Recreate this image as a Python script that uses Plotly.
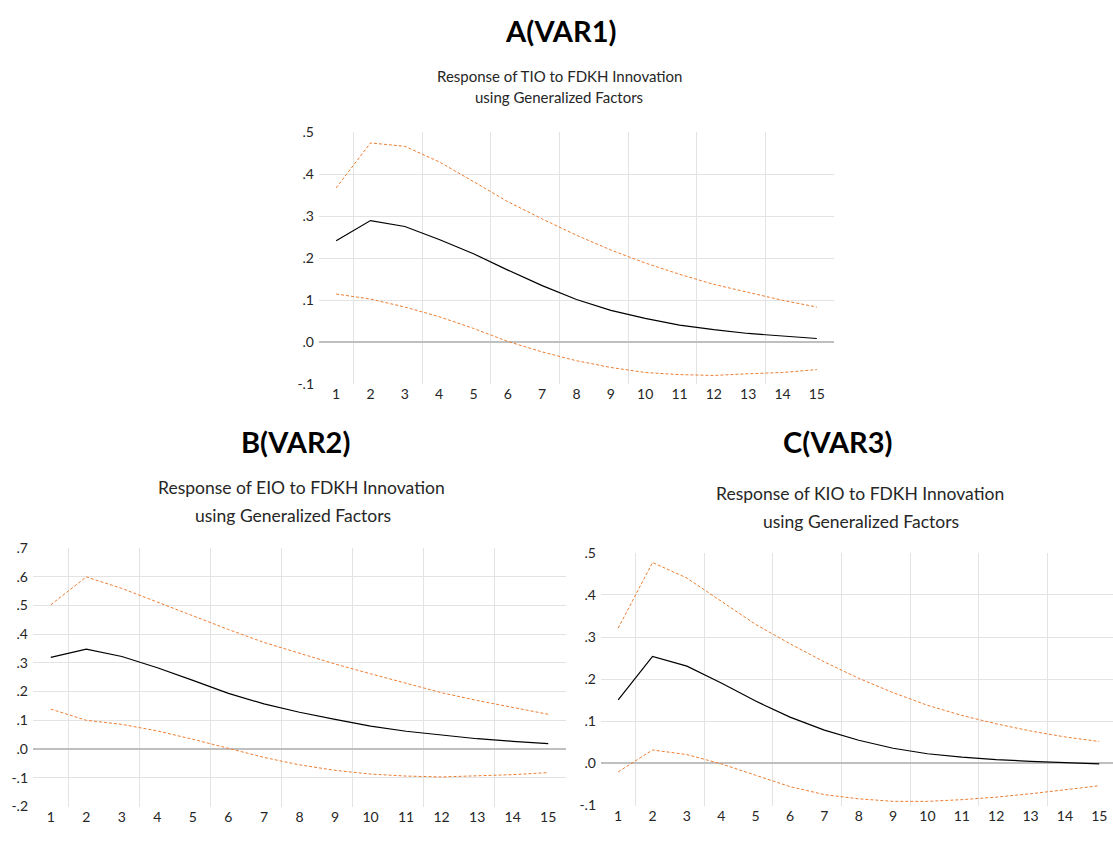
import plotly.graph_objects as go

periods = list(range(1, 16))

# Panel A: Response of TIO to FDKH Innovation
a_resp = [0.242, 0.290, 0.276, 0.245, 0.211, 0.172, 0.135, 0.102, 0.076, 0.057, 0.041, 0.030, 0.021, 0.015, 0.009]
a_upper = [0.368, 0.475, 0.467, 0.430, 0.383, 0.335, 0.294, 0.255, 0.220, 0.189, 0.162, 0.138, 0.119, 0.100, 0.084]
a_lower = [0.115, 0.103, 0.084, 0.061, 0.033, 0.002, -0.023, -0.044, -0.060, -0.072, -0.077, -0.079, -0.075, -0.072, -0.065]

# Panel B: Response of EIO to FDKH Innovation
b_resp = [0.319, 0.348, 0.322, 0.283, 0.239, 0.194, 0.157, 0.128, 0.103, 0.080, 0.062, 0.048, 0.036, 0.027, 0.019]
b_upper = [0.502, 0.599, 0.559, 0.511, 0.462, 0.416, 0.371, 0.333, 0.296, 0.262, 0.228, 0.196, 0.169, 0.146, 0.121]
b_lower = [0.139, 0.100, 0.086, 0.063, 0.034, 0.002, -0.029, -0.055, -0.074, -0.087, -0.094, -0.097, -0.094, -0.089, -0.082]

# Panel C: Response of KIO to FDKH Innovation
c_resp = [0.151, 0.254, 0.231, 0.191, 0.148, 0.110, 0.079, 0.055, 0.036, 0.023, 0.015, 0.009, 0.005, 0.002, -0.001]
c_upper = [0.321, 0.477, 0.440, 0.384, 0.330, 0.284, 0.241, 0.202, 0.168, 0.138, 0.114, 0.094, 0.077, 0.063, 0.052]
c_lower = [-0.020, 0.032, 0.021, -0.001, -0.028, -0.055, -0.074, -0.084, -0.090, -0.090, -0.086, -0.080, -0.072, -0.063, -0.053]

a_yticks = [0.5, 0.4, 0.3, 0.2, 0.1, 0.0, -0.1]
a_ylabels = [".5", ".4", ".3", ".2", ".1", ".0", "-.1"]
b_yticks = [0.7, 0.6, 0.5, 0.4, 0.3, 0.2, 0.1, 0.0, -0.1, -0.2]
b_ylabels = [".7", ".6", ".5", ".4", ".3", ".2", ".1", ".0", "-.1", "-.2"]
c_yticks = [0.5, 0.4, 0.3, 0.2, 0.1, 0.0, -0.1]
c_ylabels = [".5", ".4", ".3", ".2", ".1", ".0", "-.1"]

titles = ["A(VAR1)", "B(VAR2)", "C(VAR3)"]
subtitles_1 = ["Response of TIO to FDKH Innovation",
               "Response of EIO to FDKH Innovation",
               "Response of KIO to FDKH Innovation"]
subtitle_2 = "using Generalized Factors"

W, H = 1113, 841
FONT = "Lato"
ORANGE = "#ED7D31"
GRID = "#E3E3E3"
TXT = "#262626"

fig = go.Figure()

panels = [
    ("x", "y", a_resp, a_upper, a_lower),
    ("x2", "y2", b_resp, b_upper, b_lower),
    ("x3", "y3", c_resp, c_upper, c_lower),
]
for xa, ya, resp, up, lo in panels:
    for vals in (up, lo):
        fig.add_trace(go.Scatter(x=periods, y=vals, xaxis=xa, yaxis=ya, mode="lines",
                                 line=dict(color=ORANGE, width=1, dash="3px,2px"),
                                 showlegend=False, hoverinfo="skip"))
    fig.add_trace(go.Scatter(x=periods, y=resp, xaxis=xa, yaxis=ya, mode="lines",
                             line=dict(color="black", width=1.2),
                             showlegend=False))


def px_x(p):
    return p / W


def px_y(p):
    return 1 - p / H


def xaxis_cfg(x0, x1, r1):
    return dict(domain=[px_x(x0), px_x(x1)], range=[0.5, r1],
                tickmode="array", tickvals=periods, ticktext=[str(p) for p in periods],
                showgrid=False, zeroline=False, showline=False, ticks="",
                tickfont=dict(family=FONT, size=14, color=TXT),
                minor=dict(tickmode="array", tickvals=[1.5, 3.5, 5.5, 7.5, 9.5, 11.5, 13.5],
                           showgrid=True, gridcolor=GRID, gridwidth=1, ticks=""),
                fixedrange=True)


def yaxis_cfg(y0, y1, rng, tv, tt, anchor):
    inner = [v for v in tv if v not in (rng[0], rng[1], 0.0)]
    return dict(domain=[px_y(y1), px_y(y0)], range=rng, anchor=anchor,
                tickmode="array", tickvals=tv, ticktext=tt,
                showgrid=False, zeroline=True, zerolinecolor="#BFBFBF", zerolinewidth=1.5,
                showline=False, ticks="", ticklabelstandoff=4,
                tickfont=dict(family=FONT, size=14, color=TXT),
                minor=dict(tickmode="array", tickvals=inner, showgrid=True,
                           gridcolor=GRID, gridwidth=1, ticks=""),
                fixedrange=True)


fig.update_layout(
    width=W, height=H, autosize=False,
    margin=dict(l=0, r=0, t=0, b=0),
    paper_bgcolor="white", plot_bgcolor="white",
    xaxis=xaxis_cfg(319, 834, 15.5),
    yaxis=yaxis_cfg(126, 383, [-0.1, 0.5], a_yticks, a_ylabels, "x"),
    xaxis2=dict(xaxis_cfg(33, 566, 15.5), anchor="y2"),
    yaxis2=yaxis_cfg(550, 814, [-0.2, 0.7], b_yticks, b_ylabels, "x2"),
    xaxis3=dict(xaxis_cfg(601, 1113, 15.4), anchor="y3"),
    yaxis3=yaxis_cfg(555, 813, [-0.1, 0.5], c_yticks, c_ylabels, "x3"),
)
fig.layout.xaxis.anchor = "y"

# titles and subtitles (pixel positions converted to paper coords)
title_pos = [(560, 22), (295, 441), (837, 441)]
sub1_pos = [(559, 68), (301, 488), (860, 495)]
sub2_pos = [(559, 90), (293, 517), (861, 523)]
sub_sizes = [15, 17.5, 17.5]
for i in range(3):
    fig.add_annotation(text="<b>%s</b>" % titles[i], x=px_x(title_pos[i][0]), y=px_y(title_pos[i][1]),
                       xref="paper", yref="paper", showarrow=False, xanchor="center", yanchor="middle",
                       font=dict(family=FONT, size=29, color="black"))
    fig.add_annotation(text=subtitles_1[i], x=px_x(sub1_pos[i][0]), y=px_y(sub1_pos[i][1]),
                       xref="paper", yref="paper", showarrow=False, xanchor="center", yanchor="middle",
                       font=dict(family=FONT, size=sub_sizes[i], color=TXT))
    fig.add_annotation(text=subtitle_2, x=px_x(sub2_pos[i][0]), y=px_y(sub2_pos[i][1]),
                       xref="paper", yref="paper", showarrow=False, xanchor="center", yanchor="middle",
                       font=dict(family=FONT, size=sub_sizes[i], color=TXT))

fig.write_html("out.html", config={"displayModeBar": False},
               post_script="document.body.style.margin='0';document.body.style.overflow='hidden';")
